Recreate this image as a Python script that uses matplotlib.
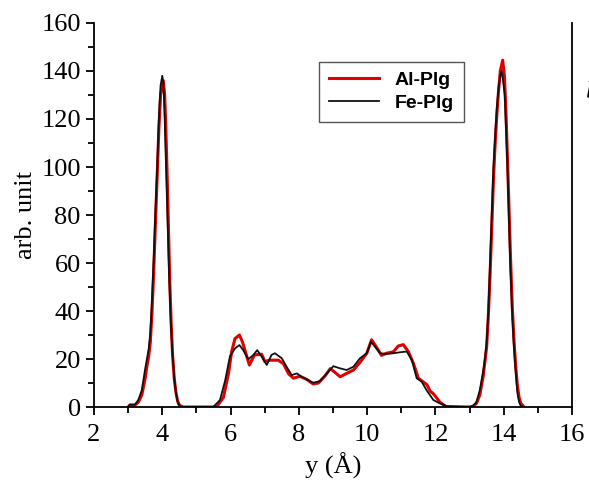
# Density profiles along y for Al-Plg and Fe-Plg

import numpy as np
import matplotlib.pyplot as plt
from matplotlib.ticker import MultipleLocator

# Data --------------------------------------------------------------------

al_y = [3.0, 3.05, 3.2, 3.3, 3.4, 3.5, 3.55, 3.6, 3.65, 3.7, 3.75, 3.8, 3.85, 3.9,
        3.95, 4.03, 4.07, 4.1, 4.14, 4.18, 4.22, 4.26, 4.3, 4.35, 4.4, 4.45, 4.5,
        4.6, 5.0, 5.59, 5.79, 5.94, 6.03, 6.13, 6.26, 6.35, 6.55, 6.7, 6.91, 7.0,
        7.15, 7.4, 7.55, 7.7, 7.84, 8.03, 8.23, 8.42, 8.57, 8.77, 8.92, 9.06, 9.21,
        9.4, 9.6, 9.79, 9.99, 10.13, 10.27, 10.42, 10.57, 10.77, 10.91, 11.06,
        11.21, 11.36, 11.5, 11.75, 11.85, 11.92, 12.0, 12.13, 12.33, 13.0, 13.1,
        13.2, 13.3, 13.4, 13.5, 13.55, 13.6, 13.65, 13.7, 13.75, 13.8, 13.85,
        13.9, 13.97, 14.02, 14.06, 14.1, 14.15, 14.2, 14.25, 14.3, 14.35, 14.4,
        14.45, 14.5, 14.6]
al_val = [0.0, 0.8, 0.8, 2, 5, 12, 17, 21, 27, 40, 57, 77, 96, 116,
          130, 136, 130, 118, 98, 75, 52, 35, 22, 12, 6, 2.5, 0.8,
          0.0, 0.0, 0.0, 4, 14, 23, 28.5, 30, 27, 17.5, 21.7, 22, 19,
          19.5, 19.5, 18, 13.8, 12, 12.8, 11.5, 9.6, 10, 13, 16, 14.4, 12.6,
          14, 15.4, 18.6, 22.4, 28, 25, 21.5, 22.4, 23, 25.4, 26,
          23, 18, 12, 9.3, 6.5, 5.8, 4.5, 2, 0.0, 0.0, 0.3,
          1.5, 5, 13, 25, 38, 55, 75, 95, 110, 122, 132,
          140, 144.5, 138, 125, 108, 85, 62, 42, 28, 17, 9,
          4, 1.5, 0.0]

fe_y = [3.0, 3.05, 3.2, 3.3, 3.4, 3.5, 3.55, 3.6, 3.65, 3.7, 3.75, 3.8, 3.85, 3.9,
        3.95, 4.0, 4.03, 4.06, 4.1, 4.15, 4.2, 4.25, 4.3, 4.35, 4.4, 4.45, 4.5,
        4.6, 5.0, 5.49, 5.69, 5.84, 5.98, 6.13, 6.26, 6.37, 6.52, 6.67, 6.78,
        6.91, 7.06, 7.2, 7.3, 7.5, 7.64, 7.79, 7.94, 8.08, 8.23, 8.42, 8.62,
        8.82, 9.01, 9.21, 9.4, 9.6, 9.79, 9.99, 10.11, 10.23, 10.38, 10.57,
        10.77, 10.96, 11.16, 11.31, 11.45, 11.6, 11.74, 11.94, 12.13, 12.33,
        13.0, 13.1, 13.2, 13.3, 13.4, 13.45, 13.5, 13.55, 13.6, 13.65, 13.7,
        13.75, 13.8, 13.85, 13.9, 13.94, 13.98, 14.03, 14.07, 14.11, 14.15,
        14.19, 14.25, 14.3, 14.35, 14.4, 14.45, 14.5, 14.6]
fe_val = [0.0, 1, 1, 3, 7, 16, 20, 24, 31, 45, 62, 82, 100, 120,
          134, 138, 135, 125, 105, 80, 55, 35, 22, 12, 6, 2, 0.5,
          0.0, 0.0, 0.0, 2.9, 11, 21, 24.4, 25.8, 23.7, 19.9, 21.7, 23.7,
          21, 17.5, 21.7, 22.4, 20.3, 16.8, 13.3, 14, 12.6, 11.5, 10.1, 10.8,
          14, 17, 16.1, 15.4, 16.8, 20.3, 22.4, 27.2, 25.1, 22.4, 22.1,
          22.4, 22.8, 23.1, 19.6, 12, 10.5, 7, 2.9, 1.5, 0.4,
          0.0, 0.5, 2, 7, 15, 20, 27, 40, 60, 80, 100,
          113, 125, 133, 138, 140, 136, 130, 115, 100, 80,
          60, 38, 25, 15, 6, 2, 0.5, 0.0]

labels = ["Al-Plg", "Fe-Plg"]

# Plot ----------------------------------------------------------------------

plt.rcParams["font.family"] = "Liberation Serif"

fig = plt.figure(figsize=(5.89, 4.82), dpi=100)
ax = fig.add_axes([94 / 589, 1 - 407 / 482, (572 - 94) / 589, (407 - 23) / 482])

ax.plot(al_y, al_val, color="#e00000", lw=2.2, label=labels[0])
ax.plot(fe_y, fe_val, color="#111111", lw=1.3, label=labels[1])

ax.set_xlim(2, 16)
ax.set_ylim(0, 160)
ax.xaxis.set_major_locator(MultipleLocator(2))
ax.xaxis.set_minor_locator(MultipleLocator(1))
ax.yaxis.set_major_locator(MultipleLocator(20))
ax.yaxis.set_minor_locator(MultipleLocator(10))
ax.tick_params(which="major", direction="out", length=6, width=1.3,
               labelsize=19, top=False, right=False)
ax.tick_params(which="minor", direction="out", length=4, width=1.3,
               top=False, right=False)
ax.tick_params(axis="x", which="major", pad=6)
for s in ax.spines.values():
    s.set_linewidth(1.3)
ax.spines["top"].set_visible(False)

ax.set_xlabel("y (Å)", fontsize=19, labelpad=5)
ax.set_ylabel("arb. unit", fontsize=19, labelpad=3)

leg = ax.legend(loc="upper left", bbox_to_anchor=(0.45, 0.925),
                prop={"family": "Liberation Sans", "weight": "bold", "size": 14},
                fancybox=False, edgecolor="#555555", framealpha=1,
                handlelength=2.6, handletextpad=0.8, borderpad=0.5,
                labelspacing=0.3)
leg.get_frame().set_linewidth(1.0)

# panel letter, cut by the right edge as in the original figure
fig.text(585 / 589, 1 - 92 / 482, "b", fontsize=19, style="italic",
         ha="left", va="center")

plt.savefig("out.png", dpi=100)
